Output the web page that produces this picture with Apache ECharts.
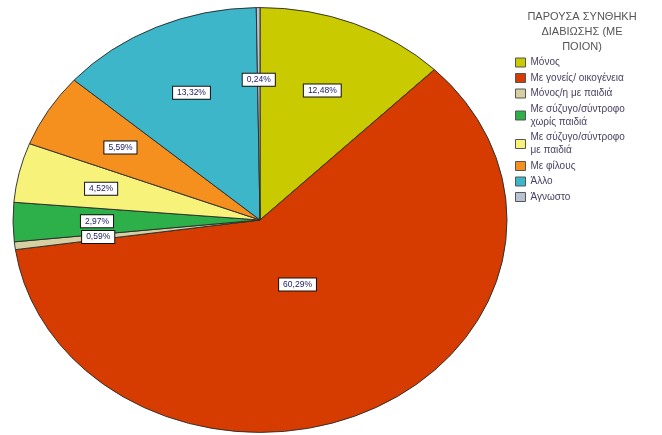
<!DOCTYPE html>
<html>
<head>
<meta charset="utf-8">
<script src="https://cdn.jsdelivr.net/npm/echarts@6/dist/echarts.min.js"></script>
<style>
html,body{margin:0;padding:0;background:#fff;}
#chart{width:662px;height:435px;}
</style>
</head>
<body>
<div id="chart"></div>
<script>
const categories = ['Μόνος', 'Με γονείς/ οικογένεια', 'Μόνος/η με παιδιά', 'Με σύζυγο/σύντροφο\nχωρίς παιδιά', 'Με σύζυγο/σύντροφο\nμε παιδιά', 'Με φίλους', 'Άλλο', 'Άγνωστο'];
const values = [12.48, 60.29, 0.59, 2.97, 4.52, 5.59, 13.32, 0.24];
const colors = ['#CACA00', '#D63C00', '#D6CFA2', '#2DB04A', '#F7F27A', '#F5901F', '#3DB6CA', '#B9C2D0'];
const legendTitle = 'ΠΑΡΟΥΣΑ ΣΥΝΘΗΚΗ\nΔΙΑΒΙΩΣΗΣ (ΜΕ\nΠΟΙΟΝ)';

const CX = 260, CY = 220, R = 247, SY = 0.86;
const FONT = '"Liberation Sans", Arial, sans-serif';
const total = values.reduce((a, b) => a + b, 0);
function startOf(i) {
  let s = 0;
  for (let k = 0; k < i; k++) s += values[k];
  return s;
}
function fmt(v) { return v.toFixed(2).replace('.', ',') + '%'; }

const chart = echarts.init(document.getElementById('chart'), null, {renderer: 'canvas'});

const sliceSeries = categories.map((name, i) => ({
  type: 'custom',
  name: name,
  coordinateSystem: 'none',
  color: colors[i],
  itemStyle: {color: colors[i]},
  data: [values[i]],
  z: 2,
  renderItem: function (params, api) {
    const v = api.value(0);
    const s = startOf(params.seriesIndex);
    const a0 = -Math.PI / 2 + 2 * Math.PI * s / total;
    const a1 = a0 + 2 * Math.PI * v / total;
    return {
      type: 'sector',
      shape: {cx: CX, cy: CY, r: R, r0: 0, startAngle: a0, endAngle: a1, clockwise: true},
      originX: CX, originY: CY, scaleY: SY,
      style: {fill: colors[params.seriesIndex], stroke: '#2b2b2b', lineWidth: 1}
    };
  }
}));

const labelSeries = {
  type: 'custom',
  name: 'labels',
  coordinateSystem: 'none',
  data: values.map(v => [v]),
  z: 10,
  silent: true,
  renderItem: function (params, api) {
    const i = params.dataIndex;
    const v = api.value(0);
    const s = startOf(i);
    const mid = -Math.PI / 2 + 2 * Math.PI * (s + v / 2) / total;
    const frac = v > 50 ? 0.34 : 0.66;
    return {
      type: 'text',
      x: CX + R * frac * Math.cos(mid),
      y: CY + R * frac * Math.sin(mid) * SY,
      style: {
        text: fmt(v), align: 'center', verticalAlign: 'middle',
        font: '8.5px ' + FONT, fill: '#1a1a66',
        backgroundColor: '#ffffff', borderColor: '#111111', borderWidth: 1,
        padding: [2, 4, 1, 4]
      }
    };
  }
};

chart.setOption({
  animation: false,
  legend: {
    data: categories,
    orient: 'vertical',
    left: 515, top: 56,
    padding: 0,
    itemWidth: 10, itemHeight: 9, itemGap: 2.5,
    icon: 'rect',
    itemStyle: {borderColor: '#555', borderWidth: 1},
    textStyle: {fontSize: 10, fontFamily: FONT, color: '#4a4262', lineHeight: 13},
    selectedMode: false
  },
  graphic: [{
    type: 'text', x: 582, y: 9,
    style: {text: legendTitle, align: 'center', font: '11px ' + FONT, fill: '#555555', lineHeight: 15}
  }],
  series: sliceSeries.concat([labelSeries])
});
</script>
</body>
</html>
